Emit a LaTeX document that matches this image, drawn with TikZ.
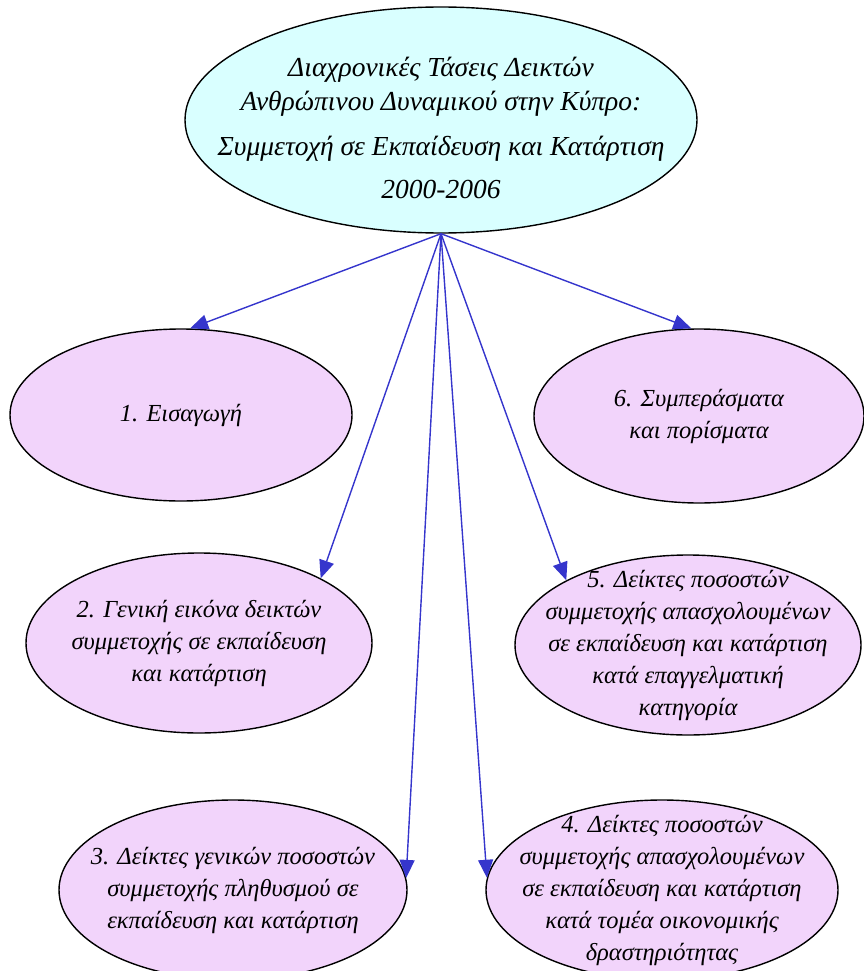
\documentclass[tikz,border=0pt]{standalone}
\usepackage{fontspec}
\setmainfont{Liberation Serif}
\usetikzlibrary{shapes.geometric,arrows.meta}

\definecolor{topfill}{HTML}{D9FFFF}
\definecolor{subfill}{HTML}{F2D4FB}
\definecolor{linkblue}{HTML}{3535CC}

\tikzset{
  topic/.style={ellipse, draw=black, line width=1.4pt, fill=subfill,
    inner xsep=-90pt, inner ysep=-60pt,
    align=center, font=\itshape\fontsize{24.5}{32}\selectfont},
  link/.style={draw=linkblue, line width=1.4pt, -{Triangle[length=18pt,width=15pt]}}
}

\begin{document}
\begin{tikzpicture}[x=1pt,y=-1pt]
\useasboundingbox (0,0) rectangle (864,971);

\coordinate (T) at (441,120);
\coordinate (C1) at (181,415);
\coordinate (C2) at (199,643);
\coordinate (C3) at (233,890);
\coordinate (C4) at (662,890);
\coordinate (C5) at (688,645);
\coordinate (C6) at (699,416);

\node[ellipse, draw=black, line width=1.4pt, fill=topfill,
  inner xsep=-70pt, inner ysep=-50pt,
  minimum width=512pt, minimum height=226pt, align=center,
  font=\itshape\fontsize{27.5}{34}\selectfont] (top) at (T)
  {\\[2pt]Διαχρονικές Τάσεις Δεικτών\\ Ανθρώπινου Δυναμικού στην Κύπρο:\\[11pt]
   Συμμετοχή σε Εκπαίδευση και Κατάρτιση\\[9pt] 2000-2006};

\node[topic, minimum width=342pt, minimum height=172pt] (n1) at (C1) {1. Εισαγωγή};
\node[topic, minimum width=346pt, minimum height=180pt] (n2) at (C2)
  {2. Γενική εικόνα δεικτών\\ συμμετοχής σε εκπαίδευση\\ και κατάρτιση};
\node[topic, minimum width=348pt, minimum height=180pt] (n3) at (C3)
  {3. Δείκτες γενικών ποσοστών\\ συμμετοχής πληθυσμού σε\\ εκπαίδευση και κατάρτιση};
\node[topic, minimum width=352pt, minimum height=180pt] (n4) at (C4)
  {4. Δείκτες ποσοστών\\ συμμετοχής απασχολουμένων\\ σε εκπαίδευση και κατάρτιση\\ κατά τομέα οικονομικής\\ δραστηριότητας};
\node[topic, minimum width=346pt, minimum height=180pt] (n5) at (C5)
  {5. Δείκτες ποσοστών\\ συμμετοχής απασχολουμένων\\ σε εκπαίδευση και κατάρτιση\\ κατά επαγγελματική\\ κατηγορία};
\node[topic, minimum width=330pt, minimum height=174pt] (n6) at (C6)
  {6. Συμπεράσματα\\ και πορίσματα};

\draw[link] (top.south) -- (n1.84);
\draw[link] (top.south) -- (n6.95);
\draw[link] (top.south) -- (n2.28);
\draw[link] (top.south) -- (n5.152);
\draw[link] (top.south) -- (n3.4);
\draw[link] (top.south) -- (n4.176);
\end{tikzpicture}
\end{document}
